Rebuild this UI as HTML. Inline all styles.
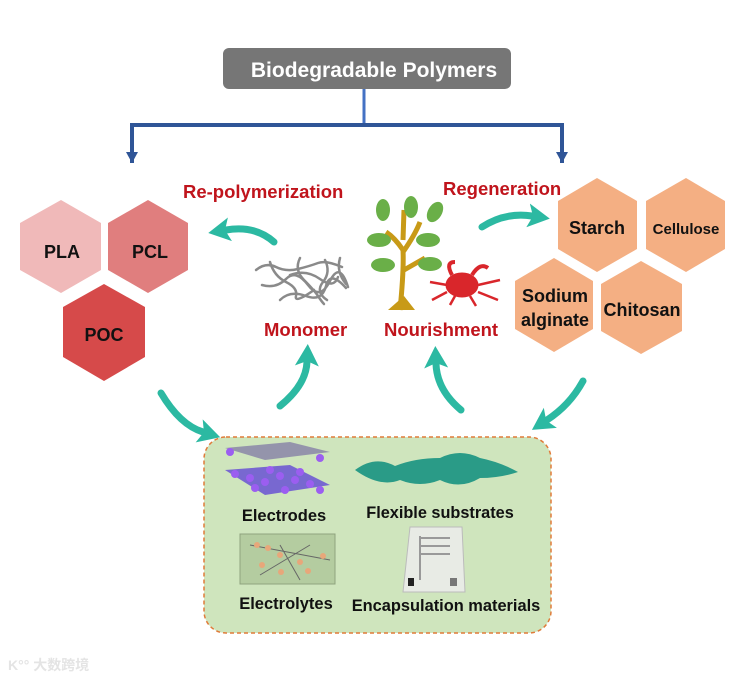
<!DOCTYPE html>
<html><head><meta charset="utf-8"><style>
html,body{margin:0;padding:0;background:#fff}
svg{display:block}
text{font-family:"Liberation Sans",Arial,sans-serif;font-weight:bold}
</style></head><body>
<svg width="750" height="682" viewBox="0 0 750 682" xmlns="http://www.w3.org/2000/svg">
<defs>
<marker id="ah" markerUnits="userSpaceOnUse" markerWidth="30" markerHeight="30" refX="4" refY="12" orient="auto">
<path d="M0,0 L22,12 L0,24 L5,12 Z" fill="#2cb9a2"/>
</marker>
</defs>
<rect width="750" height="682" fill="#fff"/>
<rect x="223" y="48" width="288" height="41" rx="6" fill="#767676"/>
<text x="374" y="77" text-anchor="middle" font-size="21" fill="#fff">Biodegradable Polymers</text>
<line x1="364" y1="89" x2="364" y2="125" stroke="#4472c4" stroke-width="3"/>
<polyline points="132,163 132,125 562,125 562,163" fill="none" stroke="#2f5597" stroke-width="4" stroke-linejoin="miter"/>
<polygon points="126,152 138,152 132,163" fill="#2f5597"/>
<polygon points="556,152 568,152 562,163" fill="#2f5597"/>
<polygon points="61,200 101,223 101,270 61,293 20,270 20,223" fill="#f0b9b9"/>
<polygon points="148,200 188,223 188,270 148,293 108,270 108,223" fill="#e07e7e"/>
<polygon points="104,284 145,307 145,357 104,381 63,357 63,307" fill="#d64a4a"/>
<text x="62" y="258" text-anchor="middle" font-size="18" fill="#111">PLA</text>
<text x="150" y="258" text-anchor="middle" font-size="18" fill="#111">PCL</text>
<text x="104" y="341" text-anchor="middle" font-size="18" fill="#111">POC</text>
<g fill="#f4af83">
<polygon points="597,178 637,201 637,249 597,272 558,249 558,201"/>
<polygon points="686,178 725,201 725,249 686,272 646,249 646,201"/>
<polygon points="554,258 593,281 593,329 554,352 515,329 515,281"/>
<polygon points="641,261 682,284 682,331 641,354 601,331 601,284"/>
</g>
<text x="597" y="234" text-anchor="middle" font-size="18" fill="#111">Starch</text>
<text x="686" y="234" text-anchor="middle" font-size="15" fill="#111">Cellulose</text>
<text x="555" y="302" text-anchor="middle" font-size="18" fill="#111">Sodium</text>
<text x="555" y="326" text-anchor="middle" font-size="18" fill="#111">alginate</text>
<text x="642" y="316" text-anchor="middle" font-size="18" fill="#111">Chitosan</text>
<g fill="#c0141c" font-size="18.5">
<text x="183" y="198">Re-polymerization</text>
<text x="443" y="195">Regeneration</text>
<text x="264" y="336">Monomer</text>
<text x="384" y="336">Nourishment</text>
</g>
<g fill="none" stroke="#2cb9a2" stroke-width="7" stroke-linecap="round" marker-end="url(#ah)">
<path d="M274,242 Q255,225 226,230"/>
<path d="M280,406 Q306,385 307,362"/>
<path d="M161,393 Q180,425 203,432"/>
<path d="M482,227 Q505,212 532,216"/>
<path d="M461,410 Q437,390 436,364"/>
<path d="M583,381 Q570,405 547,420"/>
</g>
<g fill="none" stroke="#8a8a8a" stroke-width="2.5" stroke-linecap="round">
<path d="M256,270 q10,-8 20,-3 t22,2 t20,-6 t24,4"/>
<path d="M262,285 q14,4 24,-6 t22,6 t22,-4 t18,6"/>
<path d="M270,262 q4,14 16,20 t10,14 t18,-6"/>
<path d="M300,258 q-6,12 4,22 t14,16 t6,8"/>
<path d="M325,260 q6,12 -2,22 t4,18"/>
<path d="M280,300 q10,-10 26,-4 t20,-10 t20,2"/>
<path d="M340,258 q-4,14 6,26"/>
<path d="M290,275 q16,-6 30,4 t18,-2"/>
</g>
<g>
<path d="M400,310 Q404,270 403,250 Q395,238 386,232 M403,252 Q415,235 420,222 M404,270 Q418,262 425,258 M403,240 L404,210" stroke="#c89a17" stroke-width="5" fill="none"/>
<path d="M388,310 L415,310 L404,296 Z" fill="#c89a17"/>
<g fill="#6aaf48">
<ellipse cx="383" cy="210" rx="7" ry="11"/>
<ellipse cx="411" cy="207" rx="7" ry="11"/>
<ellipse cx="435" cy="212" rx="7" ry="11" transform="rotate(30 435 212)"/>
<ellipse cx="379" cy="240" rx="12" ry="7"/>
<ellipse cx="428" cy="240" rx="12" ry="7"/>
<ellipse cx="383" cy="265" rx="12" ry="7"/>
<ellipse cx="430" cy="264" rx="12" ry="7"/>
</g>
</g>
<g fill="#d9262b" stroke="#d9262b">
<ellipse cx="462" cy="285" rx="16" ry="12"/>
<path d="M452,275 Q445,262 455,262 M472,275 Q480,262 488,268" stroke-width="4" fill="none"/>
<path d="M447,285 L430,282 M447,292 L432,300 M478,285 L500,280 M478,292 L498,300 M455,296 L450,305 M470,296 L476,306" stroke-width="2.5" fill="none"/>
</g>
<rect x="204" y="437" width="347" height="196" rx="22" fill="#cfe5bd" stroke="#e07b39" stroke-width="1.5" stroke-dasharray="4,3"/>
<g>
<polygon points="225,448 290,442 330,452 265,460" fill="#8a86a8" opacity="0.85"/>
<polygon points="225,470 290,465 330,485 265,495" fill="#7868d0"/>
<g fill="#9b5ef0">
<circle cx="235" cy="474" r="4"/><circle cx="250" cy="478" r="4"/><circle cx="265" cy="482" r="4"/><circle cx="280" cy="476" r="4"/><circle cx="295" cy="480" r="4"/><circle cx="310" cy="484" r="4"/><circle cx="270" cy="470" r="4"/><circle cx="300" cy="472" r="4"/><circle cx="320" cy="490" r="4"/><circle cx="230" cy="452" r="4"/><circle cx="320" cy="458" r="4"/><circle cx="255" cy="488" r="4"/><circle cx="285" cy="490" r="4"/>
</g>
</g>
<text x="284" y="521" text-anchor="middle" font-size="16.5" fill="#111">Electrodes</text>
<path d="M355,470 Q375,455 395,466 Q415,458 440,458 Q460,448 480,458 Q500,462 518,472 Q500,478 480,478 Q460,490 440,480 Q420,488 400,480 Q380,488 355,470 Z" fill="#2a9b87"/>
<text x="440" y="518" text-anchor="middle" font-size="16.3" fill="#111">Flexible substrates</text>
<rect x="240" y="534" width="95" height="50" fill="#b4cca0" stroke="#8fa37e"/>
<g stroke="#666" stroke-width="1" fill="none"><path d="M250,545 L330,560 M260,575 L310,545 M280,545 L300,580"/></g>
<g fill="#e8a77a"><circle cx="257" cy="545" r="3"/><circle cx="268" cy="548" r="3"/><circle cx="280" cy="555" r="3"/><circle cx="300" cy="562" r="3"/><circle cx="262" cy="565" r="3"/><circle cx="281" cy="572" r="3"/><circle cx="323" cy="556" r="3"/><circle cx="308" cy="571" r="3"/></g>
<text x="286" y="609" text-anchor="middle" font-size="16.5" fill="#111">Electrolytes</text>
<polygon points="410,527 462,527 465,592 403,592" fill="#e8ebe5" stroke="#bbb"/>
<g stroke="#999" stroke-width="2"><line x1="420" y1="538" x2="450" y2="538"/><line x1="420" y1="546" x2="450" y2="546"/><line x1="420" y1="554" x2="450" y2="554"/><line x1="420" y1="536" x2="420" y2="580"/></g>
<rect x="408" y="578" width="6" height="8" fill="#222"/><rect x="450" y="578" width="7" height="8" fill="#777"/>
<text x="446" y="611" text-anchor="middle" font-size="16.4" fill="#111">Encapsulation materials</text>
<text x="8" y="670" font-size="14" fill="#e4e4e4" style="font-family:'Liberation Sans','Noto Sans CJK SC',sans-serif">K°° 大数跨境</text>
</svg>
</body></html>
